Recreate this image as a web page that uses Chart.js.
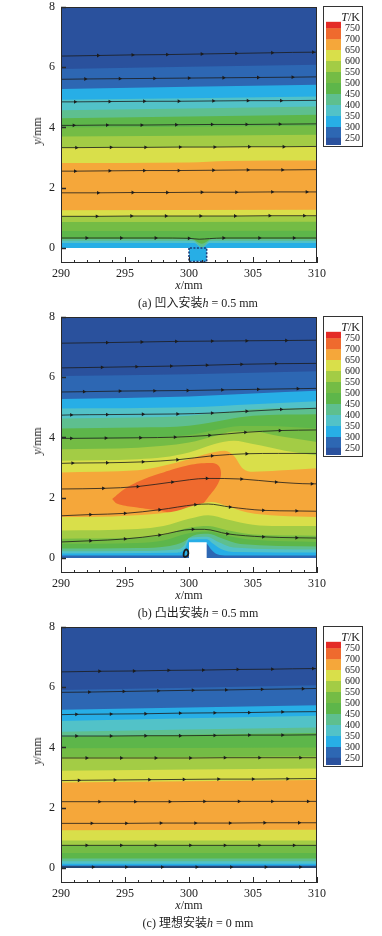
<!DOCTYPE html>
<html><head><meta charset="utf-8">
<script src="https://cdn.jsdelivr.net/npm/chart.js@4.4.1/dist/chart.umd.min.js"></script>
<style>
html,body{margin:0;padding:0;background:#fff;}
body{width:382px;height:936px;overflow:hidden;position:relative;font-family:"Liberation Serif","Noto Sans CJK SC",serif;color:#222;}
.panel{position:absolute;left:0;width:382px;height:310px;}
.panel canvas.main{position:absolute;left:0;top:0;}
.xlab{position:absolute;left:0;width:378px;text-align:center;top:277px;font-size:12px;line-height:16px;}
.ylab{position:absolute;left:37px;top:131px;transform:translate(-50%,-50%) rotate(-90deg);font-size:12px;line-height:14px;white-space:nowrap;}
.cap{position:absolute;left:0;width:396px;text-align:center;top:295px;font-size:12px;line-height:16px;white-space:nowrap;}
.cbox{position:absolute;left:323px;top:6px;width:40px;height:141px;border:1px solid #333;box-sizing:border-box;background:#fff;}
.tk{position:absolute;right:2px;top:3px;font-size:12px;line-height:14px;}
canvas.cb{position:absolute;left:324px;top:16px;}
</style>
</head><body>

<div class="panel" style="top:0px">
  <canvas class="main" id="ca" width="382" height="310"></canvas>
  <div class="ylab"><i>y</i>/mm</div>
  <div class="xlab"><i>x</i>/mm</div>
  <div class="cap">(a) 凹入安装<i>h</i> = 0.5 mm</div>
  <div class="cbox"><div class="tk"><i>T</i>/K</div></div>
  <canvas class="cb" id="cba" width="38" height="134"></canvas>
</div>
<div class="panel" style="top:310px">
  <canvas class="main" id="cbm" width="382" height="310"></canvas>
  <div class="ylab"><i>y</i>/mm</div>
  <div class="xlab"><i>x</i>/mm</div>
  <div class="cap">(b) 凸出安装<i>h</i> = 0.5 mm</div>
  <div class="cbox"><div class="tk"><i>T</i>/K</div></div>
  <canvas class="cb" id="cbb" width="38" height="134"></canvas>
</div>
<div class="panel" style="top:620px">
  <canvas class="main" id="cc" width="382" height="310"></canvas>
  <div class="ylab"><i>y</i>/mm</div>
  <div class="xlab"><i>x</i>/mm</div>
  <div class="cap">(c) 理想安装<i>h</i> = 0 mm</div>
  <div class="cbox"><div class="tk"><i>T</i>/K</div></div>
  <canvas class="cb" id="cbc" width="38" height="134"></canvas>
</div>

<script>
// ---------- axes ----------
const xTicks = [290, 295, 300, 305, 310];
const yTicks = [0, 2, 4, 6, 8];

// ---------- colour bar (T/K) ----------
const cbLevels = [250, 300, 350, 400, 450, 500, 550, 600, 650, 700, 750];
const cbEdges  = [219, 250, 300, 350, 400, 450, 500, 550, 600, 650, 700, 750, 781];
const binColors = ['#2a519d', '#2d67b3', '#27aee6', '#52c2c8', '#5ebf8f', '#5db64a',
                   '#74bc45', '#a3cc45', '#d9df4a', '#f5a73a', '#ef6a2e', '#e42b26'];

// ---------- (a) recessed ----------
const aBandBins = [0, 1, 2, 3, 4, 5, 6, 7, 8, 9, 8, 7, 6, 5, 4, 3, 2];
const aBandTops = [
  [[290, 8], [310, 8]],
  [[290, 5.94], [310, 6.08]],
  [[290, 5.28], [310, 5.42]],
  [[290, 4.92], [310, 5.03]],
  [[290, 4.57], [310, 4.70]],
  [[290, 4.31], [310, 4.42]],
  [[290, 4.00], [310, 4.06]],
  [[290, 3.70], [310, 3.76]],
  [[290, 3.32], [310, 3.37]],
  [[290, 2.82], [300, 2.84], [303, 2.89], [310, 2.90]],
  [[290, 1.25], [310, 1.27]],
  [[290, 1.06], [310, 1.06]],
  [[290, 0.86], [310, 0.87]],
  [[290, 0.56], [310, 0.57]],
  [[290, 0.30], [300.2, 0.30], [301.0, 0.14], [301.8, 0.30], [310, 0.30]],
  [[290, 0.24], [300.3, 0.24], [301.0, 0.02], [301.7, 0.24], [310, 0.24]],
  [[290, 0.16], [300.4, 0.16], [301.0, 0.00], [301.6, 0.16], [310, 0.16]]
];
const aNotch = [[300.0, 0], [300.0, -0.45], [301.38, -0.45], [301.38, 0], [300.0, 0]];
const aStreams = [
  [[290, 6.37], [292.9, 6.39, 1], [295.6, 6.41, 1], [298.3, 6.42, 1], [301.0, 6.44, 1], [303.7, 6.46, 1], [306.5, 6.48, 1], [309.7, 6.50, 1], [310, 6.50]],
  [[290, 5.60], [291.9, 5.61, 1], [294.6, 5.62, 1], [297.3, 5.63, 1], [300.0, 5.64, 1], [302.7, 5.65, 1], [305.4, 5.66, 1], [308.1, 5.67, 1], [310, 5.68]],
  [[290, 4.85], [291.1, 4.85, 1], [293.8, 4.86, 1], [296.5, 4.87, 1], [299.2, 4.87, 1], [301.9, 4.88, 1], [304.6, 4.89, 1], [307.2, 4.89, 1], [310, 4.90]],
  [[290, 4.07], [291.0, 4.07, 1], [293.6, 4.08, 1], [296.3, 4.08, 1], [299.0, 4.09, 1], [301.8, 4.10, 1], [304.5, 4.10, 1], [307.1, 4.11, 1], [310, 4.12]],
  [[290, 3.33], [291.2, 3.33, 1], [293.9, 3.34, 1], [296.6, 3.34, 1], [299.3, 3.35, 1], [302.0, 3.35, 1], [304.7, 3.36, 1], [307.4, 3.36, 1], [310, 3.37]],
  [[290, 2.55], [291.1, 2.55, 1], [293.8, 2.56, 1], [296.5, 2.57, 1], [299.2, 2.57, 1], [301.9, 2.58, 1], [304.6, 2.59, 1], [307.3, 2.59, 1], [310, 2.60]],
  [[290, 1.83], [292.9, 1.83, 1], [295.6, 1.84, 1], [298.3, 1.84, 1], [301.0, 1.85, 1], [303.7, 1.85, 1], [306.5, 1.86, 1], [309.2, 1.86, 1], [310, 1.86]],
  [[290, 1.05], [292.8, 1.05, 1], [295.5, 1.06, 1], [298.2, 1.06, 1], [300.9, 1.06, 1], [303.6, 1.06, 1], [306.3, 1.07, 1], [309.0, 1.07, 1], [310, 1.07]],
  [[290, 0.33], [292.0, 0.33, 1], [294.7, 0.33, 1], [297.4, 0.33, 1], [300.0, 0.32, 1], [300.8, 0.29], [301.6, 0.31], [302.7, 0.33, 1], [305.5, 0.33, 1], [308.2, 0.33, 1], [310, 0.33]]
];

// ---------- (b) protruding ----------
const bUpperBins = [0, 1, 2, 3, 4, 5, 6, 7, 8, 9];
const bUpperTops = [
  [[290, 8], [310, 8]],
  [[290, 6.04], [300, 6.10], [310, 6.20]],
  [[290, 5.28], [300, 5.36], [305, 5.46], [310, 5.55]],
  [[290, 4.96], [300, 5.00], [305, 5.10], [310, 5.20]],
  [[290, 4.63], [296, 4.66], [300, 4.72], [303, 4.85], [305, 4.94], [310, 4.99]],
  [[290, 4.30], [296, 4.33], [300, 4.39], [303, 4.60], [305, 4.72], [310, 4.77]],
  [[290, 3.95], [296, 3.98], [300, 4.08], [302, 4.25], [304, 4.38], [306, 4.38], [310, 4.30]],
  [[290, 3.61], [296, 3.66], [300, 3.83], [302, 4.05], [303.5, 4.20], [305, 4.20], [307, 4.05], [310, 3.85]],
  [[290, 3.23], [296, 3.28], [298, 3.34], [300, 3.50], [302, 3.78], [303.5, 3.89], [305, 3.78], [307.5, 3.56], [310, 3.40]],
  [[290, 2.84], [296, 2.91], [298, 3.06], [300, 3.28], [301.5, 3.47], [302.8, 3.56], [303.5, 3.39], [304.2, 2.97], [305, 2.86], [307, 2.90], [310, 2.98]]
];
const bHotSpot = [[294.0, 1.96], [295.0, 2.30], [296.5, 2.62], [298.0, 2.84], [299.8, 3.06], [301.4, 3.15], [302.2, 3.10],
  [302.5, 2.84], [302.3, 2.50], [301.6, 2.07], [300.9, 1.74], [299.8, 1.58], [298.8, 1.50], [297.5, 1.58],
  [295.7, 1.69], [294.4, 1.80], [294.0, 1.96]];
const bLowerBins = [8, 7, 6, 5, 4, 3, 2, 1];
const bLowerTops = [
  [[290, 1.36], [294, 1.38], [297, 1.45], [299, 1.56], [300.5, 1.76], [301.8, 1.86], [303, 1.72], [304.5, 1.52], [307, 1.40], [310, 1.36]],
  [[290, 0.91], [296, 0.96], [298, 1.06], [300, 1.30], [301.5, 1.42], [303, 1.28], [305, 1.10], [307, 1.06], [310, 1.06]],
  [[290, 0.64], [296, 0.68], [298, 0.76], [300, 1.00], [301.5, 1.06], [303, 0.92], [305, 0.78], [310, 0.74]],
  [[290, 0.47], [296, 0.50], [298, 0.58], [300, 0.82], [301.5, 0.88], [303, 0.74], [305, 0.60], [310, 0.53]],
  [[290, 0.31], [296, 0.33], [298.5, 0.40], [299.5, 0.52], [300.3, 0.74], [301.5, 0.80], [302.5, 0.66], [304, 0.46], [310, 0.38]],
  [[290, 0.22], [296, 0.23], [299, 0.28], [299.6, 0.40], [300, 0.66], [301.4, 0.70], [302.2, 0.55], [303.5, 0.35], [310, 0.28]],
  [[290, 0.15], [299, 0.17], [299.7, 0.32], [300, 0.60], [301.4, 0.62], [301.8, 0.50], [302.5, 0.30], [303.5, 0.20], [310, 0.18]],
  [[290, 0.08], [299.8, 0.08], [300.5, 0.30], [301.38, 0.46], [301.7, 0.30], [302.2, 0.12], [303, 0.08], [310, 0.08]]
];
const bStep = [[300.0, 0], [300.0, 0.52], [301.38, 0.52], [301.38, 0], [300.0, 0]];
const bLoop = [[299.62, 0.03], [299.85, 0.06], [299.95, 0.15], [299.88, 0.26], [299.72, 0.27], [299.60, 0.18], [299.58, 0.08], [299.62, 0.03]];
const bStreams = [
  [[290, 7.13], [293.6, 7.15, 1], [296.3, 7.17, 1], [299.0, 7.19, 1], [301.8, 7.20, 1], [304.5, 7.21, 1], [307.6, 7.22, 1], [310, 7.23]],
  [[290, 6.31], [293.2, 6.33, 1], [295.9, 6.35, 1], [298.6, 6.37, 1], [301.4, 6.40, 1], [304.1, 6.43, 1], [306.8, 6.45, 1], [310, 6.46]],
  [[290, 5.51], [291.8, 5.52, 1], [294.6, 5.54, 1], [297.3, 5.55, 1], [299.9, 5.56, 1], [302.6, 5.58, 1], [305.4, 5.60, 1], [308.5, 5.62, 1], [310, 5.63]],
  [[290, 4.74], [290.8, 4.75, 1], [293.6, 4.76, 1], [296.4, 4.77, 1], [299.1, 4.78, 1], [301.8, 4.81, 1], [304.5, 4.87, 1], [307.2, 4.93, 1], [310, 4.97]],
  [[290, 3.97], [290.8, 3.97, 1], [293.5, 3.98, 1], [296.2, 3.99, 1], [298.9, 4.01, 1], [301.6, 4.07, 1], [304.4, 4.17, 1], [307.1, 4.23, 1], [310, 4.25]],
  [[290, 3.14], [290.9, 3.15, 1], [293.6, 3.16, 1], [296.4, 3.19, 1], [299.1, 3.26, 1], [301.8, 3.39, 1], [304.5, 3.46, 1], [307, 3.47], [310, 3.47]],
  [[290, 2.29], [293.3, 2.31, 1], [296.0, 2.37, 1], [298.7, 2.52, 1], [301.4, 2.64, 1], [304.1, 2.62, 1], [306.8, 2.52, 1], [309.6, 2.46, 1], [310, 2.46]],
  [[290, 1.40], [292.3, 1.44, 1], [295.0, 1.48, 1], [297.7, 1.60, 1], [300.5, 1.77, 1], [301.5, 1.79], [303.2, 1.69, 1], [305.8, 1.58, 1], [308.4, 1.56, 1], [310, 1.55]],
  [[290, 0.53], [292.3, 0.57, 1], [295.0, 0.63, 1], [297.7, 0.76, 1], [300.3, 0.95, 1], [301.2, 0.95], [303.0, 0.80, 1], [305.8, 0.70, 1], [308.4, 0.67, 1], [310, 0.66]]
];

// ---------- (c) ideal ----------
const cBandBins = [0, 1, 2, 3, 4, 5, 6, 7, 8, 9, 8, 7, 6, 5, 4, 3, 2, 1];
const cBandTops = [
  [[290, 8], [310, 8]],
  [[290, 5.91], [310, 6.07]],
  [[290, 5.25], [310, 5.40]],
  [[290, 4.88], [310, 5.05]],
  [[290, 4.52], [310, 4.66]],
  [[290, 4.36], [310, 4.48]],
  [[290, 3.97], [310, 4.00]],
  [[290, 3.67], [310, 3.70]],
  [[290, 3.23], [310, 3.30]],
  [[290, 2.84], [310, 2.92]],
  [[290, 1.25], [310, 1.27]],
  [[290, 0.91], [310, 0.91]],
  [[290, 0.76], [310, 0.76]],
  [[290, 0.50], [310, 0.50]],
  [[290, 0.31], [310, 0.31]],
  [[290, 0.22], [310, 0.22]],
  [[290, 0.14], [310, 0.14]],
  [[290, 0.08], [310, 0.08]]
];
const cStreams = [
  [[290, 6.51], [293.0, 6.53, 1], [295.7, 6.54, 1], [298.4, 6.56, 1], [301.1, 6.57, 1], [303.8, 6.59, 1], [306.5, 6.60, 1], [309.7, 6.62, 1], [310, 6.62]],
  [[290, 5.83], [292.2, 5.84, 1], [294.9, 5.86, 1], [297.6, 5.88, 1], [300.3, 5.90, 1], [302.9, 5.91, 1], [305.7, 5.93, 1], [308.9, 5.95, 1], [310, 5.96]],
  [[290, 5.09], [291.2, 5.10, 1], [293.9, 5.11, 1], [296.6, 5.12, 1], [299.3, 5.14, 1], [302.0, 5.15, 1], [304.7, 5.16, 1], [307.3, 5.18, 1], [310, 5.19]],
  [[290, 4.38], [291.2, 4.38, 1], [293.9, 4.38, 1], [296.6, 4.39, 1], [299.3, 4.39, 1], [302.0, 4.40, 1], [304.7, 4.41, 1], [307.3, 4.41, 1], [310, 4.42]],
  [[290, 3.65], [292.0, 3.65, 1], [294.7, 3.65, 1], [297.4, 3.65, 1], [300.1, 3.65, 1], [302.8, 3.66, 1], [305.5, 3.66, 1], [308.7, 3.66, 1], [310, 3.66]],
  [[290, 2.90], [291.4, 2.91, 1], [294.2, 2.92, 1], [296.9, 2.93, 1], [299.6, 2.94, 1], [302.3, 2.95, 1], [305.0, 2.95, 1], [307.7, 2.96, 1], [310, 2.97]],
  [[290, 2.20], [293.0, 2.20, 1], [295.8, 2.20, 1], [298.5, 2.20, 1], [301.2, 2.21, 1], [303.9, 2.21, 1], [306.5, 2.21, 1], [309.3, 2.21, 1], [310, 2.21]],
  [[290, 1.48], [292.4, 1.48, 1], [295.1, 1.48, 1], [297.8, 1.49, 1], [300.5, 1.49, 1], [303.2, 1.49, 1], [305.9, 1.50, 1], [308.6, 1.50, 1], [310, 1.50]],
  [[290, 0.75], [292.0, 0.75, 1], [294.7, 0.75, 1], [297.4, 0.75, 1], [300.1, 0.75, 1], [302.8, 0.75, 1], [305.5, 0.75, 1], [308.2, 0.75, 1], [310, 0.75]],
  [[290, 0.03], [292.5, 0.03, 1], [295.1, 0.03, 1], [297.9, 0.03, 1], [300.6, 0.03, 1], [303.3, 0.03, 1], [306.0, 0.03, 1], [308.7, 0.03, 1], [310, 0.03]]
];

// ---------- builders ----------
const FONT = '"Liberation Serif", "Times New Roman", serif';
const toXY = pts => pts.map(p => ({ x: p[0], y: p[1], a: p[2] || 0 }));

function band(pts, bin) {
  return { data: toXY(pts), backgroundColor: binColors[bin], borderColor: binColors[bin], borderWidth: 0,
           pointRadius: 0, fill: { target: { value: 0 } }, cubicInterpolationMode: 'monotone' };
}
function shape(pts, color, extra) {
  return Object.assign({ data: toXY(pts), backgroundColor: color, borderColor: color, borderWidth: 0,
           pointRadius: 0, fill: 'shape', tension: 0 }, extra || {});
}
function stream(pts) {
  return { data: toXY(pts), borderColor: '#1c1c1c', borderWidth: 0.8, fill: false, cubicInterpolationMode: 'monotone',
           pointRadius: c => (c.raw && c.raw.a) ? 2.2 : 0, pointStyle: 'triangle', pointRotation: 90,
           pointBackgroundColor: '#1c1c1c', pointBorderWidth: 0 };
}

const frameTicks = {
  id: 'frameTicks',
  afterDatasetsDraw(chart) {
    const { ctx, chartArea: a, scales: { x, y } } = chart;
    ctx.save();
    ctx.strokeStyle = '#2a2a2a';
    ctx.lineWidth = 1;
    ctx.strokeRect(Math.round(a.left) + 0.5, Math.round(a.top) + 0.5, Math.round(a.width) - 1, Math.round(a.height) - 1);
    ctx.beginPath();
    for (let v = x.min; v <= x.max; v += 1) {
      const px = Math.round(x.getPixelForValue(v)) + 0.5;
      const len = xTicks.includes(v) ? 6 : 3;
      ctx.moveTo(px, a.bottom); ctx.lineTo(px, a.bottom - len);
    }
    ctx.stroke();
    ctx.lineWidth = 1.6;
    ctx.beginPath();
    yTicks.forEach(v => {
      const py = Math.round(y.getPixelForValue(v)) + 0.5;
      ctx.moveTo(a.left, py); ctx.lineTo(a.left + 5, py);
    });
    ctx.stroke();
    ctx.restore();
  }
};

function mainChart(id, layers) {
  const n = layers.length;
  layers.forEach((d, i) => { d.order = n - i; });
  return new Chart(document.getElementById(id), {
    type: 'line',
    data: { datasets: layers },
    options: {
      responsive: false, animation: false, devicePixelRatio: 1, events: [],
      layout: { padding: { top: 7, right: 65, left: 0, bottom: 0 } },
      plugins: { legend: { display: false }, tooltip: { enabled: false } },
      elements: { point: { radius: 0 } },
      scales: {
        x: {
          type: 'linear', min: 290, max: 310,
          afterBuildTicks: s => { s.ticks = xTicks.map(v => ({ value: v })); },
          afterFit: s => { s.height = 47; s.paddingLeft = 0; s.paddingRight = 0; },
          grid: { display: false, drawTicks: false }, border: { display: false },
          ticks: { padding: 4, autoSkip: false, maxRotation: 0, color: '#222', font: { family: FONT, size: 12 } }
        },
        y: {
          type: 'linear', min: -0.5, max: 8,
          afterBuildTicks: s => { s.ticks = yTicks.map(v => ({ value: v })); },
          afterFit: s => { s.width = 61; s.paddingTop = 0; s.paddingBottom = 0; },
          grid: { display: false, drawTicks: false }, border: { display: false },
          ticks: { padding: 6, autoSkip: false, color: '#222', font: { family: FONT, size: 12 } }
        }
      }
    },
    plugins: [frameTicks]
  });
}

function colorBar(id) {
  return new Chart(document.getElementById(id), {
    type: 'bar',
    data: {
      labels: [''],
      datasets: binColors.map((c, i) => ({ data: [[cbEdges[i], cbEdges[i + 1]]], backgroundColor: c, borderWidth: 0,
        grouped: false, barPercentage: 1, categoryPercentage: 1 }))
    },
    options: {
      responsive: false, animation: false, devicePixelRatio: 1, events: [],
      layout: { padding: { left: 2, top: 5.7, bottom: 5, right: 0 } },
      plugins: { legend: { display: false }, tooltip: { enabled: false } },
      scales: {
        x: { display: false },
        y: {
          position: 'right', min: cbEdges[0], max: cbEdges[cbEdges.length - 1],
          afterBuildTicks: s => { s.ticks = cbLevels.map(v => ({ value: v })); },
          afterFit: s => { s.width = 21; s.paddingTop = 0; s.paddingBottom = 0; },
          grid: { display: false, drawTicks: false }, border: { display: false },
          ticks: { padding: 4, autoSkip: false, color: '#222', font: { family: FONT, size: 10 } }
        }
      }
    }
  });
}

// panel (a)
const layersA = aBandTops.map((p, i) => band(p, aBandBins[i]));
layersA.push(shape(aNotch, binColors[2], { borderColor: '#1d3a78', borderWidth: 1.6, borderDash: [2, 1.5] }));
aStreams.forEach(s => layersA.push(stream(s)));
mainChart('ca', layersA);

// panel (b)
const layersB = bUpperTops.map((p, i) => band(p, bUpperBins[i]));
layersB.push(shape(bHotSpot, binColors[10], { tension: 0.4 }));
bLowerTops.forEach((p, i) => layersB.push(band(p, bLowerBins[i])));
layersB.push(shape(bStep, '#ffffff'));
bStreams.forEach(s => layersB.push(stream(s)));
const loop = stream(bLoop);
loop.borderWidth = 1.8; loop.cubicInterpolationMode = 'default'; loop.tension = 0.4; loop.pointRadius = 0;
layersB.push(loop);
mainChart('cbm', layersB);

// panel (c)
const layersC = cBandTops.map((p, i) => band(p, cBandBins[i]));
cStreams.forEach(s => layersC.push(stream(s)));
mainChart('cc', layersC);

colorBar('cba');
colorBar('cbb');
colorBar('cbc');
</script>
</body></html>
